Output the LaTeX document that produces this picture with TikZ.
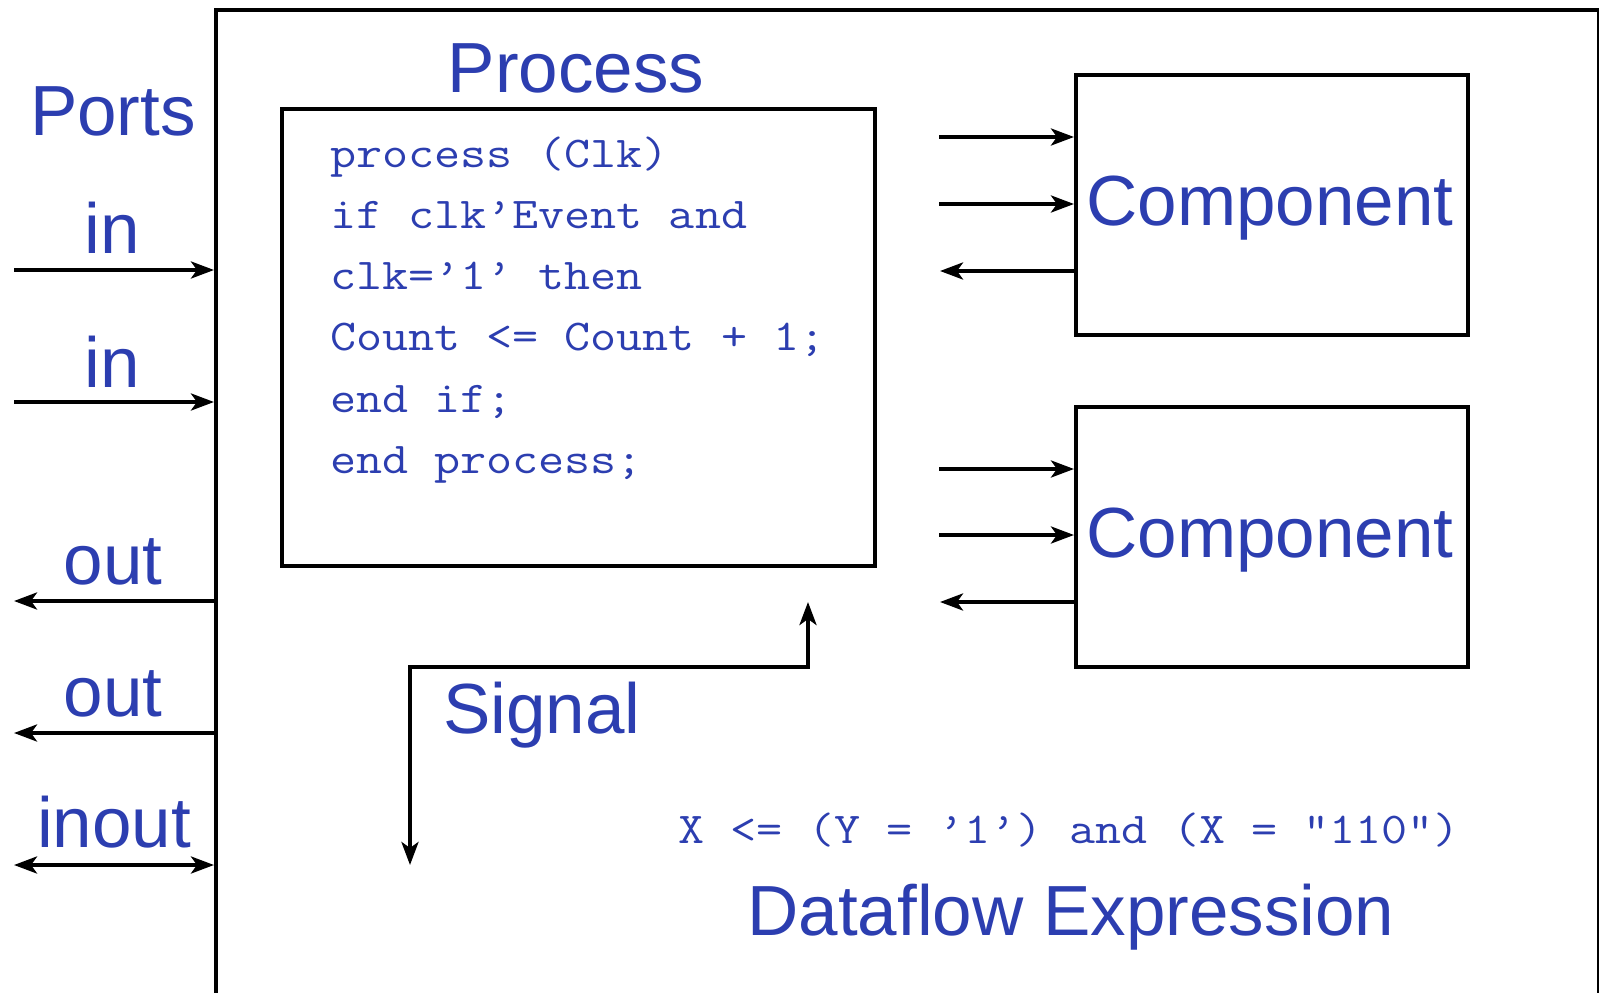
\documentclass[tikz,border=0pt]{standalone}
\usepackage{fontspec}
\setmainfont{Liberation Sans}
\usetikzlibrary{arrows.meta}
\definecolor{txtblue}{RGB}{44,62,176}
\newcommand{\codewide}[1]{\scalebox{1.15}[1]{#1}}
\tikzset{
  boxline/.style={draw=black, line width=4pt},
  conn/.style={line width=4pt, -{Stealth[length=23pt,width=17pt,inset=6pt]}},
  biconn/.style={line width=4pt, {Stealth[length=23pt,width=17pt,inset=6pt]}-{Stealth[length=23pt,width=17pt,inset=6pt]}},
  big/.style={text=txtblue, font=\fontsize{71}{80}\selectfont, inner sep=0pt, anchor=base},
  code/.style={text=txtblue, font=\ttfamily\fontsize{44}{60}\selectfont, inner sep=0pt, anchor=base west},
  dcode/.style={text=txtblue, font=\ttfamily\fontsize{44}{60}\selectfont, inner sep=0pt, anchor=base},
}
\begin{document}
\begin{tikzpicture}[x=1pt, y=-1pt]
\useasboundingbox (0,0) rectangle (1599,993);
\clip (0,0) rectangle (1599,993);
% outer system box (bottom edge lies below the picture)
\node[boxline, minimum width=1383pt, minimum height=1100pt, anchor=north west, inner sep=0pt] (sys) at (214,8) {};
% labels left
\node[big] (ports) at (113,135) {Ports};
\node[big] (in1) at (112,253) {in};
\node[big] (in2) at (112,387) {in};
\node[big] (out1) at (113,584) {out};
\node[big] (out2) at (113,716) {out};
\node[big] (inout) at (114,847) {inout};
% port arrows
\coordinate (p1) at (14,270);
\coordinate (p2) at (14,402);
\coordinate (p3) at (14,601);
\coordinate (p4) at (14,733);
\coordinate (p5) at (14,865);
\draw[conn] (p1) -- (sys.west |- p1);
\draw[conn] (p2) -- (sys.west |- p2);
\draw[conn] (sys.west |- p3) -- (p3);
\draw[conn] (sys.west |- p4) -- (p4);
\draw[biconn] (p5) -- (sys.west |- p5);
% process
\node[big] (proclabel) at (576,92) {Process};
\node[boxline, minimum width=593pt, minimum height=457pt, anchor=north west, inner sep=0pt] (proc) at (280,107) {};
\node[code] (c1) at (330,167) {\codewide{process (Clk)}};
\node[code] (c2) at (330,228) {\codewide{if clk’Event and}};
\node[code] (c3) at (330,289) {\codewide{clk=’1’ then}};
\node[code] (c4) at (330,350) {\codewide{Count <= Count + 1;}};
\node[code] (c5) at (330,412) {\codewide{end if;}};
\node[code] (c6) at (330,473) {\codewide{end process;}};
% components
\node[boxline, minimum width=392pt, minimum height=260pt, anchor=north west, inner sep=0pt] (comp1) at (1074,73) {};
\node[boxline, minimum width=392pt, minimum height=260pt, anchor=north west, inner sep=0pt] (comp2) at (1074,405) {};
\node[big] (comp1label) at (1270,225) {Component};
\node[big] (comp2label) at (1270,557) {Component};
\coordinate (a1) at (939,137);
\coordinate (a2) at (939,204);
\coordinate (a3) at (940,271);
\coordinate (b1) at (939,469);
\coordinate (b2) at (939,535);
\coordinate (b3) at (940,602);
\draw[conn] (a1) -- (comp1.west |- a1);
\draw[conn] (a2) -- (comp1.west |- a2);
\draw[conn] (comp1.west |- a3) -- (a3);
\draw[conn] (b1) -- (comp2.west |- b1);
\draw[conn] (b2) -- (comp2.west |- b2);
\draw[conn] (comp2.west |- b3) -- (b3);
% signal
\coordinate (s1) at (410,865);
\coordinate (sm) at (808,667);
\coordinate (s2) at (808,602);
\draw[biconn, line join=miter] (s1) |- (sm) -- (s2);
\node[big] (signal) at (542,733) {Signal};
% dataflow
\node[dcode] (expr) at (1069,843) {\codewide{X <= (Y = ’1’) and (X = "110")}};
\node[big] (dflabel) at (1071,935) {Dataflow Expression};
\end{tikzpicture}
\end{document}
